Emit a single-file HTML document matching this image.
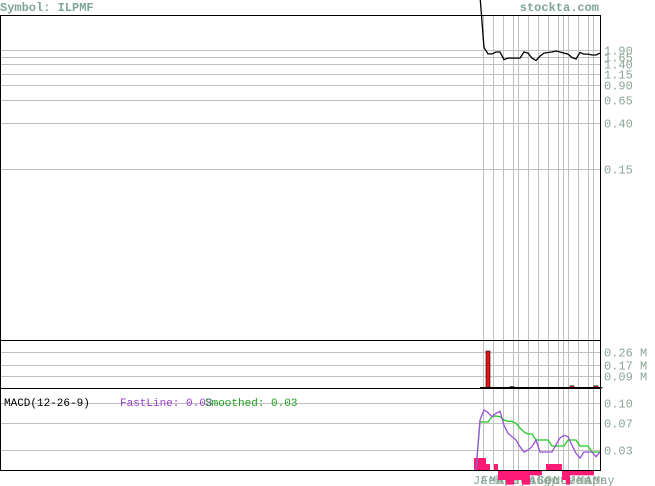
<!DOCTYPE html>
<html><head><meta charset="utf-8"><style>
body{margin:0;background:#fff;}
svg{display:block;font-family:"Liberation Mono",monospace;}
</style></head><body>
<svg id="c" width="655" height="486" viewBox="0 0 655 486">
<text x="0" y="11" font-size="12" font-weight="bold" fill="#7fa595">Symbol: ILPMF</text>
<text x="599" y="11" font-size="12" font-weight="bold" fill="#7fa595" text-anchor="end">stockta.com</text>
<g id="grid"></g>
<g id="marks"></g>
<rect x="0.5" y="15.5" width="600" height="325" fill="none" stroke="#000"/>
<rect x="0.5" y="340.5" width="600" height="48" fill="none" stroke="#000"/>
<rect x="0.5" y="388.5" width="600" height="82" fill="none" stroke="#000"/>
<text x="4" y="406" font-size="11" fill="#000">MACD(12-26-9)</text>
<text x="120" y="406" font-size="11" fill="#9a40d0">FastLine: 0.03</text>
<text x="205" y="406" font-size="11" fill="#20a020">Smoothed: 0.03</text>
</svg>
<script>
const priceTicks=[1.90,1.65,1.40,1.15,0.90,0.65,0.40,0.15];
const volTicks=[0.26,0.17,0.09];
const macdTicks=[0.10,0.07,0.03];
const months=["Ja","Feb","Mar","Apr","May","Jun","Jul","Aug","Sep","Oct","Nov","Dec","Jan","Mar","Apr","May"];
const price=[null,6.0,2.0,1.75,1.75,1.82,1.82,1.55,1.6,1.6,1.6,1.6,1.82,1.78,1.6,1.52,1.67,1.78,1.8,1.82,1.86,1.82,1.78,1.74,1.62,1.57,1.80,1.74,1.74,1.71,1.71,1.78];
const volume=[0,0,0,0.26,0.005,0.005,0.005,0,0,0.01,0,0,0.005,0,0,0,0,0,0,0.005,0,0,0.005,0,0.015,0,0,0,0,0,0.015,0.005];
const volUp=[1,1,1,0,1,1,0,1,1,1,1,1,1,1,1,1,1,1,1,1,1,1,0,1,0,1,1,1,1,1,0,1];
const fast=[0,0.075,0.09,0.086,0.08,0.085,0.088,0.067,0.055,0.05,0.045,0.035,0.027,0.03,0.035,0.045,0.027,0.027,0.027,0.027,0.038,0.048,0.052,0.05,0.037,0.025,0.018,0.027,0.027,0.027,0.02,0.027];
const smooth=[0,0.072,0.072,0.072,0.08,0.081,0.08,0.075,0.073,0.073,0.07,0.063,0.057,0.054,0.054,0.045,0.045,0.045,0.045,0.036,0.036,0.036,0.036,0.045,0.045,0.045,0.036,0.036,0.036,0.027,0.027,0.027];
const hist=[0.018,0.018,0.018,0.009,0,0.009,-0.015,-0.015,-0.022,-0.022,-0.015,-0.015,-0.022,-0.022,-0.008,-0.008,-0.008,0,0.009,0.009,0.009,0.009,-0.015,-0.022,-0.008,-0.008,-0.008,-0.008,-0.008,-0.008,0,0];
const vLines=[483,493,503,513,518,528,538,548,558,563,568,578,588,593];
const NS="http://www.w3.org/2000/svg";
const g=document.getElementById('grid'),m=document.getElementById('marks');
function el(t,a,p){const e=document.createElementNS(NS,t);for(const k in a)e.setAttribute(k,a[k]);p.appendChild(e);return e;}
const xs=i=>476+i*4;
const yP=v=>50-47*Math.log(v/1.9);
const yV=v=>389-37*v/0.26;
const yM=v=>470-667*v;
const lab="#8aa595";
priceTicks.forEach(t=>{const y=Math.round(yP(t))+0.5;
 const l=el('line',{x1:1,x2:600,y1:y,y2:y,stroke:'#c0c0c0'},g);
 
 const tx=el('text',{x:604,y:y+4,'font-size':12,fill:lab},g);tx.textContent=t.toFixed(2);
 });
volTicks.forEach(t=>{const y=Math.round(yV(t))+0.5;
 const l=el('line',{x1:1,x2:600,y1:y,y2:y,stroke:'#c0c0c0'},g);
 
 const tx=el('text',{x:604,y:y+4,'font-size':12,fill:lab},g);tx.textContent=t.toFixed(2)+' M';
 });
macdTicks.forEach(t=>{const y=Math.round(yM(t))+0.5;
 const l=el('line',{x1:1,x2:600,y1:y,y2:y,stroke:'#c0c0c0'},g);
 
 const tx=el('text',{x:604,y:y+4,'font-size':12,fill:lab},g);tx.textContent=t.toFixed(2);
 });
vLines.forEach(x=>{const l=el('line',{x1:x+0.5,x2:x+0.5,y1:16,y2:470,stroke:'#c0c0c0'},g);
 });
months.forEach((mo,i)=>{const tx=el('text',{x:473+i*8,y:484,'font-size':12,fill:lab},g);tx.textContent=mo;
 });
// histogram
hist.forEach((v,i)=>{const y0=yM(0),y1=yM(v);
 const r=el('rect',{x:xs(i)-2,y:Math.min(y0,y1),width:4,height:Math.abs(y1-y0),fill:'#ff1a75'},m);
 });
// volume
volume.forEach((v,i)=>{if(!v)return;const y=yV(v);
 const r=el('rect',{x:xs(i)-2,y:y-1,width:4,height:389-y+1-1,fill:volUp[i]?'#0a8a0a':'#ee1111',stroke:'#000','stroke-width':0.6},m);
 });
const vb=el('line',{x1:480,x2:600,y1:388,y2:388,stroke:'#000','stroke-width':2},m);

function line(arr,ys,col,name){let d='';arr.forEach((v,i)=>{if(v==null)return;d+=(d?'L':'M')+xs(i)+','+ys(v).toFixed(1);});
 const p=el('path',{d:d,fill:'none',stroke:col,'stroke-width':1.3},m);
 }
line(price,yP,'#000','price-line');
line(smooth,yM,'#22cc22','smoothed-line');
line(fast,yM,'#9a50d8','fast-line');
</script>
</body></html>
